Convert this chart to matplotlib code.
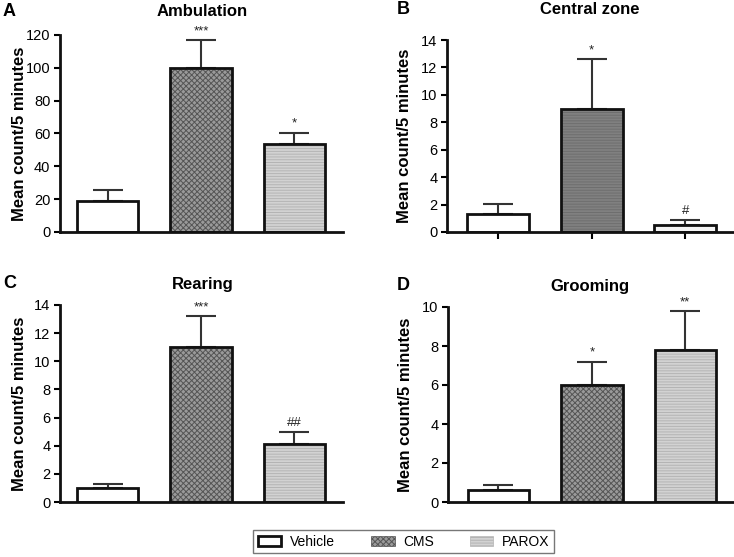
import matplotlib
matplotlib.use("Agg")
import matplotlib.pyplot as plt
from matplotlib.patches import Patch
import numpy as np

plt.rcParams['font.family'] = ['Liberation Sans', 'DejaVu Sans']

groups = ["Vehicle", "CMS", "PAROX"]
titles = ["Ambulation", "Central zone", "Rearing", "Grooming"]
letters = ["A", "B", "C", "D"]
means = [
    [19.0, 100.0, 53.5],
    [1.3, 9.0, 0.5],
    [1.0, 11.0, 4.1],
    [0.6, 6.0, 7.8],
]
errs = [
    [6.5, 17.0, 7.0],
    [0.75, 3.6, 0.35],
    [0.3, 2.2, 0.85],
    [0.28, 1.2, 2.0],
]
stars = [
    ["", "***", "*"],
    ["", "*", "#"],
    ["", "***", "##"],
    ["", "*", "**"],
]
ymax = [120, 14, 14, 10]
ystep = [20, 2, 2, 2]

W, H = 734, 557
fig = plt.figure(figsize=(W / 100, H / 100), dpi=100)

# axes boxes in pixels: left, right, top, bottom
boxes = [
    (60, 343, 35, 232),
    (447, 733, 40, 232),
    (60, 343, 305, 502),
    (448, 733, 307, 502),
]
label_cx = [20, 405, 20, 406]
title_pos = [(202, 11), (590, 10), (203, 284), (590, 286)]
letter_pos = [(3, 11), (397, 9), (3, 284), (397, 286)]
xlims = [(-0.51, 2.52), (-0.545, 2.51), (-0.51, 2.52), (-0.54, 2.51)]

styles = [
    dict(face="white", hatch=None, hcol="white"),
    dict(face="#9a9a9a", hatch="xxxxxx", hcol="#555555"),
    dict(face="#d2d2d2", hatch="------", hcol="#b4b4b4"),
]
b_styles = [
    dict(face="white", hatch=None, hcol="white"),
    dict(face="#808080", hatch="------", hcol="#6e6e6e"),
    dict(face="#f4f4f4", hatch=None, hcol="white"),
]

plt.rcParams['hatch.linewidth'] = 0.7
x = np.arange(len(groups))
bw = 0.66
for i in range(4):
    l, r, t, b = boxes[i]
    ax = fig.add_axes([l / W, 1 - b / H, (r - l) / W, (b - t) / H])
    st = b_styles if i == 1 else styles
    for j in range(3):
        s = st[j]
        ax.bar(x[j], means[i][j], width=bw, color=s["face"], edgecolor=s["hcol"],
               hatch=s["hatch"], linewidth=0, zorder=2)
        ax.bar(x[j], means[i][j], width=bw, fill=False, edgecolor="#111111",
               linewidth=2.0, zorder=3)
    ax.errorbar(x, means[i], yerr=[np.zeros(3), errs[i]], fmt="none",
                ecolor="#333333", elinewidth=1.5, capsize=11, capthick=1.5, zorder=1)
    for j in range(3):
        if stars[i][j]:
            ax.text(x[j], means[i][j] + errs[i][j] + ymax[i] * 0.015, stars[i][j],
                    ha="center", va="bottom", fontsize=9.5, color="#222222")
    ax.set_xlim(*xlims[i])
    ax.set_ylim(0, ymax[i])
    ax.set_yticks(np.arange(0, ymax[i] + 0.1, ystep[i]))
    ax.tick_params(axis="y", labelsize=10.5, length=4, width=1.5, pad=3)
    if i == 1:
        ax.set_xticks(x)
        ax.set_xticklabels([])
        ax.tick_params(axis="x", length=5, width=1.5)
    else:
        ax.set_xticks([])
    for sp in ["top", "right"]:
        ax.spines[sp].set_visible(False)
    for sp in ["left", "bottom"]:
        ax.spines[sp].set_linewidth(2)
        ax.spines[sp].set_color("#111111")
    ax.set_ylabel("Mean count/5 minutes", fontsize=12, fontweight="bold")
    ax.yaxis.set_label_coords((label_cx[i] + 7 - l) / (r - l), 0.5)
    fig.text(title_pos[i][0] / W, 1 - title_pos[i][1] / H, titles[i], ha="center",
             va="center", fontsize=12, fontweight="bold")
    fig.text(letter_pos[i][0] / W, 1 - letter_pos[i][1] / H, letters[i], ha="left",
             va="center", fontsize=13, fontweight="bold")

handles = [
    Patch(facecolor="white", edgecolor="#111111", linewidth=2),
    Patch(facecolor="#9a9a9a", edgecolor="#555555", hatch="xxxxxx", linewidth=0.5),
    Patch(facecolor="#d2d2d2", edgecolor="#b4b4b4", hatch="------", linewidth=0.5),
]
leg = fig.legend(handles, groups, loc="center", bbox_to_anchor=(403.5 / W, 1 - 541.5 / H),
                 ncol=3, frameon=True, fancybox=False, edgecolor="#555555",
                 fontsize=10, handlelength=1.7, handleheight=0.7, columnspacing=2.6,
                 handletextpad=0.6, borderpad=0.35, borderaxespad=0)
leg.get_frame().set_linewidth(1.0)

fig.savefig("out.png", dpi=100)
